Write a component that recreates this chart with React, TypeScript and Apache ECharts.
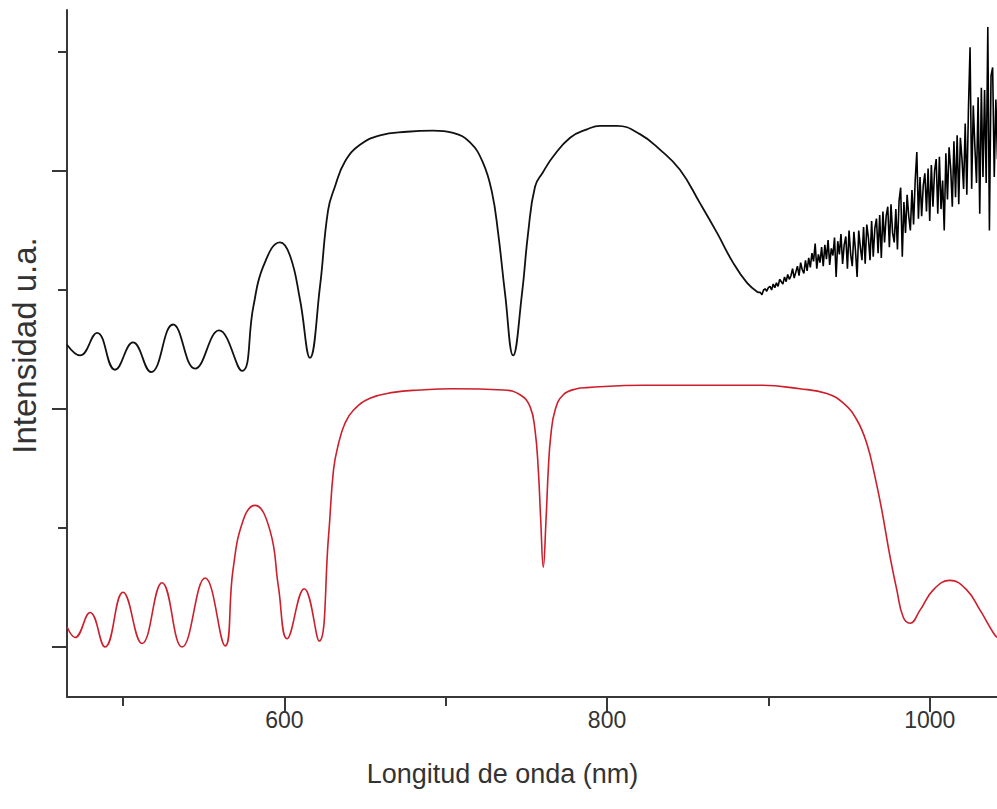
import React, { useEffect, useRef } from "react";
import * as echarts from "echarts";

const xMin = 465.3;
const xMax = 1041.7;
const yMin = -0.42;
const yMax = 5.353;

const majorXTicks = [600, 800, 1000];
const minorXTicks = [500, 700, 900];
const majorYTicks = [0, 2, 4];
const minorYTicks = [1, 3, 5];

const xTitle = "Longitud de onda (nm)";
const yTitle = "Intensidad u.a.";

// Black (measured) spectrum, smooth part
const blackX = [465.3, 473.4, 483.9, 495.1, 506.2, 517.4, 531.0, 544.7, 559.5, 573.8, 580.8, 587.0, 597.3, 603.5, 609.7, 615.9, 622.1, 627.1, 631.4, 637.6, 646.9, 659.3, 676.0, 692.2, 704.6, 715.1, 723.1, 728.7, 732.5, 736.8, 741.8, 747.3, 751.1, 755.4, 760.3, 766.5, 777.1, 787.6, 795.7, 806.2, 820.4, 832.8, 845.2, 857.6, 868.2, 878.1, 886.8, 893.6];
const blackY = [2.54, 2.45, 2.64, 2.33, 2.56, 2.31, 2.71, 2.34, 2.66, 2.32, 2.86, 3.20, 3.40, 3.29, 2.92, 2.43, 3.03, 3.67, 3.87, 4.08, 4.22, 4.30, 4.33, 4.34, 4.32, 4.24, 4.07, 3.82, 3.48, 2.97, 2.45, 2.97, 3.48, 3.87, 3.99, 4.12, 4.28, 4.35, 4.38, 4.38, 4.31, 4.18, 4.01, 3.73, 3.48, 3.23, 3.06, 2.98];

// Black spectrum, noisy tail: one reading per nm starting at 895 nm
const noiseStart = 895;
const noiseStep = 1;
const noiseY = [
  2.98, 2.96, 3.00, 3.01, 2.99, 3.02, 3.03, 3.00, 3.05, 3.02,
  3.06, 3.03, 3.09, 3.07, 3.05, 3.11, 3.07, 3.13, 3.09, 3.12,
  3.18, 3.10, 3.15, 3.20, 3.12, 3.23, 3.17, 3.14, 3.25, 3.16,
  3.27, 3.19, 3.31, 3.24, 3.39, 3.18, 3.30, 3.23, 3.36, 3.20,
  3.38, 3.26, 3.42, 3.21, 3.35, 3.29, 3.44, 3.11, 3.41, 3.30,
  3.47, 3.22, 3.38, 3.45, 3.18, 3.50, 3.30, 3.20, 3.49, 3.33,
  3.11, 3.50, 3.36, 3.25, 3.53, 3.22, 3.55, 3.44, 3.25, 3.58,
  3.28, 3.52, 3.60, 3.31, 3.63, 3.27, 3.66, 3.40, 3.62, 3.70,
  3.36, 3.72, 3.48, 3.40, 3.68, 3.34, 3.75, 3.86, 3.28, 3.74,
  3.48, 3.80, 3.62, 3.50, 3.84, 3.55, 3.92, 4.16, 3.60, 3.95,
  3.62, 3.88, 3.98, 3.66, 4.02, 3.58, 4.05, 3.70, 4.00, 4.10,
  3.64, 4.12, 3.68, 3.92, 3.50, 4.15, 3.76, 4.20, 4.02, 3.70,
  4.25, 3.78, 4.30, 3.72, 4.28, 4.10, 3.85, 4.40, 3.80, 4.52,
  5.04, 3.85, 4.55, 4.20, 3.90, 4.62, 3.64, 4.70, 3.95, 4.68,
  3.90, 5.21, 3.50, 4.80, 4.87, 3.95, 4.60, 4.10,
];

// Red (simulated) spectrum
const redX = [465.3, 470.3, 479.6, 488.9, 500.0, 511.8, 524.2, 536.6, 550.9, 563.3, 568.2, 574.6, 581.8, 591.1, 596.3, 601.7, 612.3, 621.6, 627.4, 630.5, 633.6, 637.6, 642.8, 653.1, 667.6, 684.1, 704.7, 735.7, 746.1, 752.3, 755.4, 757.4, 758.9, 760.5, 762.2, 763.6, 765.1, 767.8, 772.9, 781.2, 787.4, 822.5, 894.8, 919.6, 936.2, 946.5, 954.8, 961.0, 966.1, 970.3, 975.4, 979.6, 983.6, 987.8, 994.0, 1002.2, 1012.6, 1022.9, 1031.2, 1039.4, 1041.7];
const redY = [0.17, 0.08, 0.29, 0.00, 0.46, 0.03, 0.54, 0.00, 0.58, 0.01, 0.65, 1.07, 1.19, 0.98, 0.51, 0.07, 0.49, 0.05, 0.93, 1.49, 1.71, 1.88, 1.99, 2.09, 2.14, 2.16, 2.17, 2.16, 2.12, 2.02, 1.82, 1.49, 1.07, 0.67, 1.07, 1.49, 1.77, 1.99, 2.12, 2.17, 2.18, 2.20, 2.20, 2.17, 2.13, 2.05, 1.91, 1.71, 1.43, 1.15, 0.76, 0.48, 0.25, 0.20, 0.31, 0.48, 0.56, 0.48, 0.31, 0.12, 0.08];

const FONT = "'Liberation Sans', Arial, sans-serif";
const AXIS_COLOR = "#383838";

export default function App() {
  const ref = useRef<HTMLDivElement>(null);

  useEffect(() => {
    if (!ref.current) return;
    const chart = echarts.init(ref.current, null, { renderer: "svg" });

    const zip = (xs: number[], ys: number[]) => xs.map((x, i) => [x, ys[i]]);
    const blackData = zip(blackX, blackY);
    const noiseData: number[][] = [[blackX[blackX.length - 1], blackY[blackY.length - 1]]].concat(
      noiseY.map((y, i) => [noiseStart + i * noiseStep, y])
    );
    const redData = zip(redX, redY);

    const baseX = {
      type: "value" as const,
      min: xMin,
      max: xMax,
      position: "bottom" as const,
      splitLine: { show: false },
    };
    const baseY = {
      type: "value" as const,
      min: yMin,
      max: yMax,
      position: "left" as const,
      splitLine: { show: false },
    };

    chart.setOption({
      animation: false,
      backgroundColor: "#ffffff",
      grid: { left: 67, right: 0, top: 10, bottom: 809 - 697, containLabel: false },
      xAxis: [
        {
          ...baseX,
          axisLine: { show: true, onZero: false, lineStyle: { color: AXIS_COLOR, width: 2 } },
          axisTick: { show: true, customValues: majorXTicks, length: 15, lineStyle: { color: AXIS_COLOR, width: 2 } },
          axisLabel: {
            show: true,
            customValues: majorXTicks,
            formatter: (v: number) => String(v),
            fontSize: 23,
            color: "#333",
            margin: 11,
            fontFamily: FONT,
          },
          name: xTitle,
          nameLocation: "middle",
          nameGap: 63,
          nameTextStyle: { fontSize: 27, color: "#333", fontFamily: FONT, padding: [0, 59, 0, 0] },
        },
        {
          ...baseX,
          axisLine: { show: false, onZero: false },
          axisTick: { show: true, customValues: minorXTicks, length: 9, lineStyle: { color: AXIS_COLOR, width: 2 } },
          axisLabel: { show: false },
        },
      ],
      yAxis: [
        {
          ...baseY,
          axisLine: { show: true, onZero: false, lineStyle: { color: AXIS_COLOR, width: 2 } },
          axisTick: { show: true, customValues: majorYTicks, length: 15, lineStyle: { color: AXIS_COLOR, width: 2 } },
          axisLabel: { show: false },
          name: yTitle,
          nameLocation: "middle",
          nameGap: 26,
          nameTextStyle: { fontSize: 33, color: "#333", fontFamily: FONT, padding: [0, 0, 0, 16] },
        },
        {
          ...baseY,
          axisLine: { show: false, onZero: false },
          axisTick: { show: true, customValues: minorYTicks, length: 9, lineStyle: { color: AXIS_COLOR, width: 2 } },
          axisLabel: { show: false },
        },
      ],
      series: [
        {
          type: "line",
          xAxisIndex: 0,
          yAxisIndex: 0,
          data: blackData,
          smooth: 0.45,
          showSymbol: false,
          lineStyle: { color: "#111", width: 1.8 },
        },
        {
          type: "line",
          xAxisIndex: 0,
          yAxisIndex: 0,
          data: noiseData,
          smooth: false,
          showSymbol: false,
          lineStyle: { color: "#000", width: 1.6 },
        },
        {
          type: "line",
          xAxisIndex: 0,
          yAxisIndex: 0,
          data: redData,
          smooth: 0.45,
          showSymbol: false,
          lineStyle: { color: "#cc1f2b", width: 1.6 },
        },
      ],
    });

    return () => chart.dispose();
  }, []);

  return (
    <div
      ref={ref}
      style={{ position: "fixed", left: 0, top: 0, width: 997, height: 809, background: "#fff" }}
    />
  );
}
